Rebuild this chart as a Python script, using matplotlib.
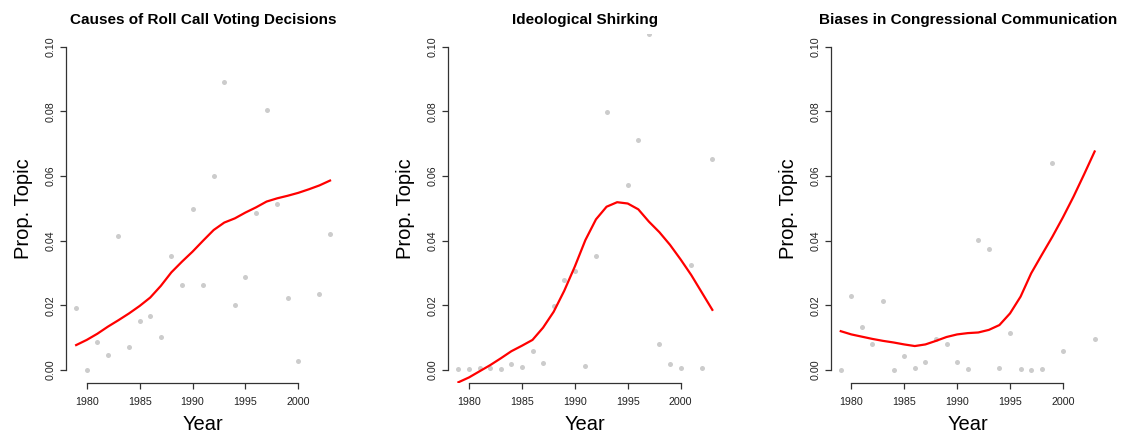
import numpy as np
import matplotlib.pyplot as plt

plt.rcParams['font.family'] = ['Liberation Sans', 'DejaVu Sans']

# proporção anual de cada tópico (pontos) e curva suavizada (linha)
anos = np.arange(1979, 2004)

titulos = ["Causes of Roll Call Voting Decisions",
           "Ideological Shirking",
           "Biases in Congressional Communication"]

# pontos: np.nan onde o ano não aparece
roll_pts = [0.0193, 0.0000, 0.0088, 0.0046, 0.0414, 0.0070, 0.0153, 0.0167,
            0.0101, 0.0353, 0.0263, 0.0498, 0.0264, 0.0601, 0.0891, 0.0200,
            0.0287, 0.0485, 0.0804, 0.0515, 0.0222, 0.0027, np.nan, 0.0234,
            0.0420]
shirk_pts = [0.0002, 0.0004, 0.0005, 0.0006, 0.0004, 0.0019, 0.0010, 0.0060,
             0.0022, 0.0198, 0.0278, 0.0307, 0.0013, 0.0353, 0.0799, np.nan,
             0.0571, 0.0711, 0.1039, 0.0081, 0.0020, 0.0005, 0.0324, 0.0006,
             0.0652]
bias_pts = [0.0001, 0.0230, 0.0134, 0.0079, 0.0214, 0.0001, 0.0044, 0.0007,
            0.0025, 0.0096, 0.0079, 0.0026, 0.0003, 0.0402, 0.0373, 0.0006,
            0.0115, 0.0003, 0.0001, 0.0002, 0.0639, 0.0058, np.nan, np.nan,
            0.0096]

roll_fit = [0.0077, 0.0093, 0.0112, 0.0134, 0.0154, 0.0175, 0.0198, 0.0224,
            0.0260, 0.0302, 0.0335, 0.0366, 0.0400, 0.0433, 0.0456, 0.0469,
            0.0487, 0.0503, 0.0521, 0.0531, 0.0539, 0.0548, 0.0559, 0.0571,
            0.0586]
shirk_fit = [-0.0038, -0.0023, -0.0004, 0.0015, 0.0036, 0.0058, 0.0075,
             0.0093, 0.0131, 0.0180, 0.0245, 0.0320, 0.0402, 0.0466, 0.0505,
             0.0519, 0.0515, 0.0497, 0.0459, 0.0426, 0.0387, 0.0342, 0.0294,
             0.0240, 0.0186]
bias_fit = [0.0120, 0.0110, 0.0103, 0.0096, 0.0090, 0.0085, 0.0079, 0.0074,
            0.0079, 0.0090, 0.0102, 0.0110, 0.0114, 0.0116, 0.0124, 0.0139,
            0.0175, 0.0227, 0.0299, 0.0356, 0.0412, 0.0472, 0.0536, 0.0605,
            0.0676]

pontos = [roll_pts, shirk_pts, bias_pts]
curvas = [roll_fit, shirk_fit, bias_fit]

fig = plt.figure(figsize=(11.24, 4.34), dpi=100)
esquerdas = [66, 448.3, 830.6]

for i in range(3):
    ax = fig.add_axes([esquerdas[i]/1124, 51.1/434, 274.2/1124, 349.1/434])
    ax.plot(anos, pontos[i], 'o', color='#cccccc', ms=3.6, mec='none',
            clip_on=True)
    ax.plot(anos, curvas[i], '-', color='#ff0000', lw=1.6)

    ax.set_xlim(1978.04, 2003.96)
    ax.set_ylim(-0.004, 0.104)
    ax.spines['top'].set_visible(False)
    ax.spines['right'].set_visible(False)
    ax.spines['left'].set_bounds(0.0, 0.1)
    ax.spines['bottom'].set_bounds(1980, 2000)
    for s in ['left', 'bottom']:
        ax.spines[s].set_color('#333333')
        ax.spines[s].set_linewidth(0.9)

    ax.set_xticks([1980, 1985, 1990, 1995, 2000])
    ax.set_yticks([0.0, 0.02, 0.04, 0.06, 0.08, 0.10])
    ax.set_yticklabels(["0.00", "0.02", "0.04", "0.06", "0.08", "0.10"],
                       rotation=90, va='center')
    ax.tick_params(axis='both', length=4.5, width=0.9, color='#333333',
                   labelsize=7.7, labelcolor='#222222')
    ax.tick_params(axis='x', pad=5.5)
    ax.tick_params(axis='y', pad=3)

    ax.set_xlabel("Year", fontsize=14.5, labelpad=6)
    ax.set_ylabel("Prop. Topic", fontsize=14.5, labelpad=9)
    ax.set_title(titulos[i], fontsize=11, fontweight='bold', pad=7)

plt.savefig('out.png', dpi=100)
